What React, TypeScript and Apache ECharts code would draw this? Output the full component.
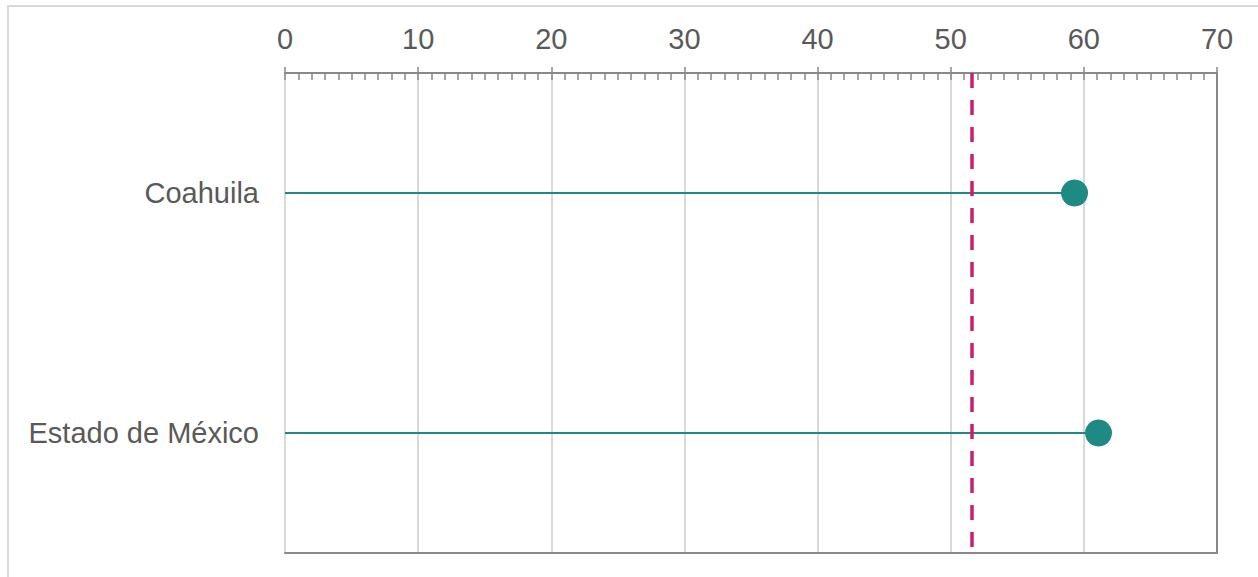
import React, { useEffect, useRef } from "react";
import * as echarts from "echarts";

const categories = ["Coahuila", "Estado de México"];
const values = [59.3, 61.1];
const referenceValue = 51.6;
const xMin = 0;
const xMax = 70;
const xInterval = 10;

const TEAL = "#1F8A84";
const MAGENTA = "#C8206E";
const AXIS_GRAY = "#898989";
const GRID_GRAY = "#D9D9D9";
const TEXT_GRAY = "#595959";
const FONT = "'Liberation Sans', Arial, sans-serif";

export default function App() {
  const ref = useRef<HTMLDivElement>(null);

  useEffect(() => {
    if (!ref.current) return;
    const chart = echarts.init(ref.current, null, { renderer: "svg" });
    chart.setOption({
      animation: false,
      backgroundColor: "#ffffff",
      graphic: [
        {
          type: "rect",
          shape: { x: 8, y: 6, width: 1300, height: 650 },
          style: { fill: "none", stroke: GRID_GRAY, lineWidth: 2 },
          silent: true,
          z: -1,
        },
      ],
      grid: { left: 285, right: 41, top: 73, bottom: 24, containLabel: false },
      xAxis: [
        {
          type: "value",
          position: "top",
          min: xMin,
          max: xMax,
          interval: xInterval,
          axisLine: { show: true, onZero: false, lineStyle: { color: AXIS_GRAY, width: 2 } },
          axisTick: { show: true, inside: true, length: 7, lineStyle: { color: AXIS_GRAY, width: 1.5 } },
          minorTick: { show: true, splitNumber: 10, length: 7, lineStyle: { color: AXIS_GRAY, width: 1.5 } },
          splitLine: { show: true, lineStyle: { color: GRID_GRAY, width: 2 } },
          axisLabel: { show: true, fontSize: 29, color: TEXT_GRAY, fontFamily: FONT, margin: 20 },
        },
        {
          type: "value",
          position: "top",
          min: xMin,
          max: xMax,
          interval: xInterval,
          axisLine: { show: false, onZero: false },
          axisTick: { show: true, inside: false, length: 6, lineStyle: { color: AXIS_GRAY, width: 1.5 } },
          splitLine: { show: false },
          axisLabel: { show: false },
        },
        {
          type: "value",
          position: "bottom",
          min: xMin,
          max: xMax,
          interval: xInterval,
          axisLine: { show: true, onZero: false, lineStyle: { color: AXIS_GRAY, width: 2 } },
          axisTick: { show: false },
          splitLine: { show: false },
          axisLabel: { show: false },
        },
      ],
      yAxis: [
        {
          type: "category",
          data: categories,
          inverse: true,
          axisLine: { show: false, onZero: false },
          axisTick: { show: false },
          splitLine: { show: false },
          axisLabel: { fontSize: 29, color: TEXT_GRAY, fontFamily: FONT, margin: 26 },
        },
        {
          type: "value",
          position: "right",
          min: 0,
          max: 1,
          axisLine: { show: true, onZero: false, lineStyle: { color: AXIS_GRAY, width: 2 } },
          axisTick: { show: false },
          splitLine: { show: false },
          axisLabel: { show: false },
        },
      ],
      series: [
        {
          type: "bar",
          xAxisIndex: 0,
          yAxisIndex: 0,
          data: values,
          barWidth: 2,
          itemStyle: { color: TEAL },
          silent: true,
        },
        {
          type: "scatter",
          xAxisIndex: 0,
          yAxisIndex: 0,
          data: values,
          symbol: "circle",
          symbolSize: 27,
          itemStyle: { color: TEAL, opacity: 1 },
          z: 5,
          markLine: {
            silent: true,
            symbol: ["none", "none"],
            label: { show: false },
            lineStyle: { color: MAGENTA, width: 3.5, type: [15, 12] },
            data: [{ xAxis: referenceValue }],
            z: 4,
          },
        },
      ],
    });
    return () => chart.dispose();
  }, []);

  return (
    <div
      ref={ref}
      style={{ position: "absolute", left: 0, top: 0, width: 1258, height: 577 }}
    />
  );
}
